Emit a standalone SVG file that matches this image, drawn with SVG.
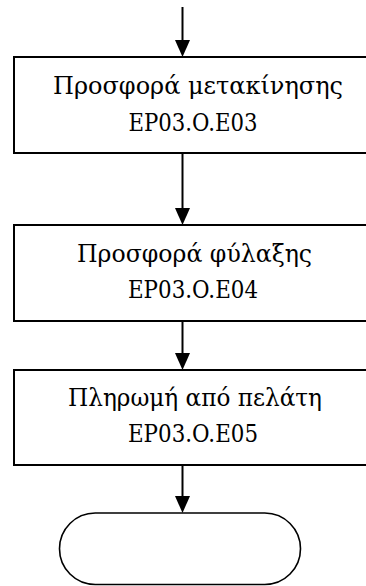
<svg xmlns="http://www.w3.org/2000/svg" width="366" height="586" viewBox="0 0 366 586">
  <style>
    .box { fill: #fff; stroke: #000; stroke-width: 2; }
    .term { fill: #fff; stroke: #000; stroke-width: 1.6; }
    .edge { stroke: #000; stroke-width: 2; fill: none; }
    .head { fill: #000; }
    text { font-family: "DejaVu Serif", serif; font-size: 24px; fill: #000; text-anchor: middle; }
  </style>
  <rect width="366" height="586" fill="#fff"/>

  <g id="connectors">
    <line class="edge" x1="182.5" y1="7" x2="182.5" y2="42"/>
    <polygon class="head" points="175,40 190,40 182.5,57"/>
    <line class="edge" x1="182.5" y1="153" x2="182.5" y2="210"/>
    <polygon class="head" points="175,208 190,208 182.5,225"/>
    <line class="edge" x1="182.5" y1="321" x2="182.5" y2="355"/>
    <polygon class="head" points="175,353 190,353 182.5,370"/>
    <line class="edge" x1="182.5" y1="465" x2="182.5" y2="498"/>
    <polygon class="head" points="175,496 190,496 182.5,513"/>
  </g>

  <g id="offer-move">
    <rect class="box" x="14" y="57" width="360" height="96"/>
    <text x="198" y="94" textLength="290" lengthAdjust="spacingAndGlyphs">Προσφορά μετακίνησης</text>
    <text x="193" y="131" textLength="129" lengthAdjust="spacingAndGlyphs">EP03.O.E03</text>
  </g>

  <g id="offer-storage">
    <rect class="box" x="14" y="225" width="360" height="96"/>
    <text x="194.5" y="262" textLength="235" lengthAdjust="spacingAndGlyphs">Προσφορά φύλαξης</text>
    <text x="193" y="298" textLength="130" lengthAdjust="spacingAndGlyphs">EP03.O.E04</text>
  </g>

  <g id="customer-payment">
    <rect class="box" x="14" y="370" width="360" height="95"/>
    <text x="195" y="406" textLength="254" lengthAdjust="spacingAndGlyphs">Πληρωμή από πελάτη</text>
    <text x="193" y="442" textLength="130" lengthAdjust="spacingAndGlyphs">EP03.O.E05</text>
  </g>

  <g id="end">
    <rect class="term" x="59.5" y="513" width="241" height="71.5" rx="35.75" ry="35.75"/>
  </g>
</svg>
